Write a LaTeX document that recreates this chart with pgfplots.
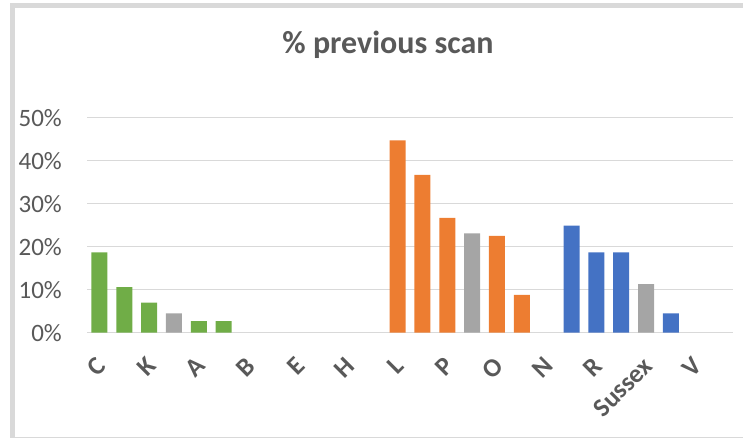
\documentclass[border=0pt]{standalone}
\usepackage{fontspec}
\setmainfont{Carlito}
\usepackage{pgfplots}
\pgfplotsset{compat=1.18}
\definecolor{cgreen}{HTML}{70AD47}
\definecolor{corange}{HTML}{ED7D31}
\definecolor{cgray}{HTML}{A5A5A5}
\definecolor{cblue}{HTML}{4472C4}
\definecolor{txtgray}{HTML}{595959}
\definecolor{gridgray}{HTML}{D9D9D9}
\definecolor{framegray}{HTML}{D9D9D9}
\begin{document}
\begin{tikzpicture}
\path[use as bounding box] (0bp,0bp) rectangle (743bp,439bp);
\fill[framegray] (10bp,2bp) rectangle (15bp,436bp);
\fill[framegray] (10bp,431bp) rectangle (743bp,436bp);
\draw[framegray, line width=1bp] (10bp,1.5bp) -- (743bp,1.5bp);
\node[anchor=base, text=txtgray, font=\fontsize{32bp}{36bp}\selectfont\bfseries, inner sep=0pt] at (388bp,385bp) {\% previous scan};
\begin{axis}[
  at={(87bp,106.3bp)}, anchor=south west,
  scale only axis, width=646bp, height=215bp,
  xmin=-0.5, xmax=25.5, ymin=0, ymax=50,
  ytick={0,10,...,50},
  yticklabel={\pgfmathprintnumber{\tick}\%},
  /pgf/number format/assume math mode=true,
  ymajorgrids, grid style={color=gridgray, line width=1.4bp},
  axis line style={draw=none},
  major tick length=0pt,
  xtick={0,2,...,24},
  xticklabels={C,K,A,B,E,H,L,P,O,N,R,Sussex,V},
  x tick label style={rotate=45, anchor=east, inner sep=0pt, text=txtgray,
     font=\fontsize{26bp}{30bp}\selectfont\bfseries, xshift=-19bp, yshift=-22bp},
  y tick label style={anchor=east, inner sep=0pt, text=txtgray,
     font=\fontsize{25bp}{30bp}\selectfont, xshift=-25bp},
  ybar, bar width=16bp, bar shift=0pt,
  clip=false,
]
\addplot[fill=cgreen, draw=none] coordinates {(0,18.7) (1,10.6) (2,7.0) (4,2.7) (5,2.7)};
\addplot[fill=cgray, draw=none] coordinates {(3,4.5) (15,23.1) (22,11.3)};
\addplot[fill=corange, draw=none] coordinates {(12,44.7) (13,36.7) (14,26.7) (16,22.5) (17,8.8)};
\addplot[fill=cblue, draw=none] coordinates {(19,24.9) (20,18.7) (21,18.7) (23,4.5)};
\end{axis}
\end{tikzpicture}
\end{document}
